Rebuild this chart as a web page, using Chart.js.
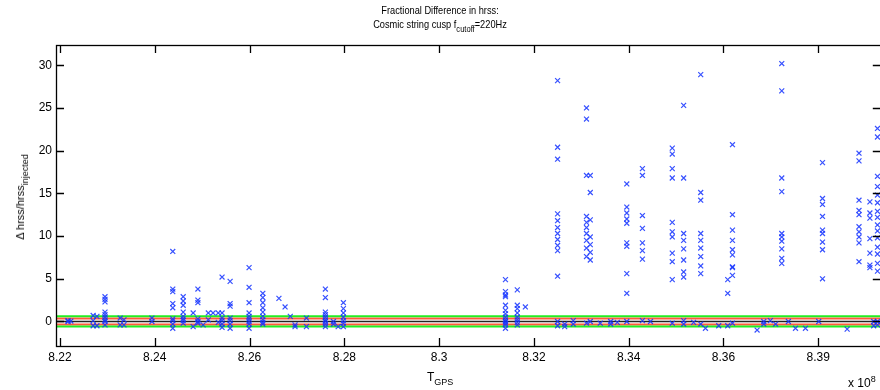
<!DOCTYPE html>
<html lang="en">
<head>
<meta charset="UTF-8">
<title>Fractional Difference in hrss</title>
<script src="https://cdn.jsdelivr.net/npm/chart.js"></script>
<style>
    body { margin: 0; background: #fff; }
    .wrap {
        position: relative;
        width: 880px;
        height: 390px;
        overflow: hidden;
        font-family: 'Liberation Sans', Arial, sans-serif;
        color: #000;
    }
    canvas { position: absolute; left: 0; top: 0; }
    .txt { position: absolute; white-space: nowrap; font-size: 11px; line-height: 14px; }
    .txt sub { font-size: 9px; vertical-align: -4px; line-height: 0; }
    .txt sup { font-size: 9px; vertical-align: 5px; line-height: 0; }
    #title { left: 0; width: 880px; top: 3px; text-align: center; transform: scaleX(0.84); }
    #ylab { left: 20px; top: 197px; transform: translate(-50%, -50%) rotate(-90deg); }
    #xlab { left: 427px; top: 370px; font-size: 12px; }
    #xexp { left: 848px; top: 376px; font-size: 12px; }
</style>
</head>
<body>
<div class="wrap">
    <canvas id="chart" width="886" height="390"></canvas>
    <div class="txt" id="title">Fractional Difference in hrss:<br>Cosmic string cusp f<sub>cutoff</sub>=220Hz</div>
    <div class="txt" id="ylab">&Delta; hrss/hrss<sub>injected</sub></div>
    <div class="txt" id="xlab">T<sub>GPS</sub></div>
    <div class="txt" id="xexp">x 10<sup>8</sup></div>
</div>

<script>
    // axis ticks
    const xTickValues = [8.22, 8.24, 8.26, 8.28, 8.30, 8.32, 8.34, 8.36, 8.38];
    const xTickLabels = ['8.22', '8.24', '8.26', '8.28', '8.3', '8.32', '8.34', '8.36', '8.39'];
    const yTickValues = [0, 5, 10, 15, 20, 25, 30];

    // reference bands around zero
    const greenBand = 0.6;
    const redBand = 0.35;

    // injection times (x 1e8 s) and the fractional differences found at each
    const colX = [
        8.2217, 8.2223, 8.2270, 8.2278, 8.2295, 8.2327, 8.2335, 8.2394,
        8.2438, 8.2460, 8.2481, 8.2491, 8.2502, 8.2513, 8.2523, 8.2534,
        8.2542, 8.2559, 8.2599, 8.2628, 8.2662, 8.2675, 8.2686, 8.2696,
        8.2720, 8.2760, 8.2777, 8.2787, 8.2798,
        8.3140, 8.3165, 8.3182,
        8.3250, 8.3265, 8.3283, 8.3311, 8.3319, 8.3340, 8.3362, 8.3376,
        8.3396, 8.3429, 8.3446, 8.3492, 8.3516, 8.3537, 8.3552, 8.3562,
        8.3590, 8.3609, 8.3619, 8.3671, 8.3685, 8.3699, 8.3710, 8.3723,
        8.3737, 8.3752, 8.3773, 8.3801, 8.3809, 8.3861, 8.3886, 8.3909,
        8.3917, 8.3925
    ];
    const colY = [
        [0.1, 0], [0.05], [0.7, 0.1, -0.5], [0.6, -0.5],
        [2.9, 2.6, 2.3, 1.1, 0.8, 0.5, 0.2, 0, -0.4], [0.4, -0.4], [0.2, -0.4], [0.4, 0],
        [8.2, 3.8, 3.5, 2.1, 1.6, 0.3, 0.1, -0.3, -0.8], [2.9, 2.4, 1.9, 1.1, 0.6, 0.3, 0.1, -0.2],
        [1.0, -0.6], [3.8, 2.5, 2.2, 0.3, 0, -0.2], [-0.4], [1.0, 0.2], [1.0], [1.0, -0.1],
        [5.2, 1.0, 0.4, 0.1, -0.3, -0.7], [4.7, 2.1, 1.8, 0.4, 0.1, -0.3, -0.8],
        [6.3, 4.0, 2.2, 1.0, 0.6, 0.3, 0, -0.3, -0.8], [3.3, 2.8, 2.2, 1.6, 1.1, 0.6, 0.2, -0.1, -0.3],
        [2.7], [1.7], [0.6], [-0.4, -0.6],
        [0.4, -0.6], [3.8, 2.8, 1.1, 0.8, 0.5, 0.2, 0, -0.3, -0.6], [0, -0.3], [-0.6],
        [2.2, 1.5, 1.0, 0.5, 0.1, -0.2, -0.6],
        [4.9, 3.5, 3.1, 2.9, 1.9, 1.3, 0.9, 0.5, 0.2, 0, -0.2, -0.4, -0.8],
        [3.7, 1.9, 1.5, 1.0, 0.5, 0.2, -0.1, -0.4], [1.7],
        [28.2, 20.4, 19.0, 12.6, 11.8, 11.0, 10.3, 9.6, 8.9, 8.3, 5.3, 0, -0.5], [-0.3, -0.6], [0.1, -0.3],
        [25.0, 23.7, 17.1, 12.3, 11.6, 11.0, 10.3, 9.5, 8.6, 7.6, -0.2],
        [17.1, 15.1, 11.9, 9.9, 9.0, 8.1, 7.2, 0], [-0.2], [0, -0.3], [-0.1],
        [16.1, 13.4, 12.7, 12.0, 11.5, 9.2, 8.8, 5.6, 3.3, 0],
        [17.9, 17.1, 12.4, 10.9, 9.2, 8.3, 7.3, 0.1], [0],
        [20.3, 19.6, 17.9, 16.8, 11.6, 10.5, 9.9, 8.0, 7.0, 4.9, -0.2],
        [25.3, 16.8, 10.3, 9.5, 8.5, 7.2, 5.8, 5.2, 0.1, -0.3], [-0.1],
        [28.9, 15.1, 14.2, 10.3, 9.5, 8.6, 7.6, 6.5, 5.6, -0.3], [-0.8],
        [-0.5], [4.9, 3.3, -0.5],
        [20.7, 12.5, 10.7, 9.5, 8.4, 7.8, 6.4, 6.3, 5.4, -0.2],
        [-1.0], [0, -0.3], [0.1], [-0.3],
        [30.2, 27.0, 16.8, 15.2, 10.3, 9.9, 9.4, 8.5, 7.4, 6.8],
        [0], [-0.8], [-0.8], [0],
        [18.6, 14.4, 13.7, 12.3, 10.7, 10.3, 9.3, 8.4, 5.0], [-0.9],
        [19.7, 18.8, 14.2, 13.0, 12.5, 11.1, 10.5, 9.9, 9.2, 7.0],
        [14.0, 12.7, 12.1, 9.7, 8.0, 6.6, 6.3],
        [0, -0.5],
        [22.6, 21.6, 17.0, 15.8, 14.8, 13.9, 12.9, 12.2, 11.3, 10.6, 9.8, 8.7, 7.9, 6.8, 5.9, 0, -0.4]
    ];

    const xMin = 8.21916, xMax = 8.3932;
    const yMin = -2.87, yMax = 32.37;

    const points = [];
    colX.forEach((x, i) => colY[i].forEach(y => points.push({ x: x, y: y })));

    function band(y) {
        return [{ x: xMin, y: y }, { x: xMax, y: y }];
    }

    function lineSet(y, color, w) {
        return {
            type: 'line',
            data: band(y),
            borderColor: color,
            borderWidth: w,
            pointRadius: 0,
            order: 2
        };
    }

    // MATLAB style box with inward ticks
    const framePlugin = {
        id: 'frame',
        afterDraw(chart) {
            const { ctx, chartArea: a, scales: { x, y } } = chart;
            ctx.save();
            ctx.strokeStyle = '#000';
            ctx.lineWidth = 1.3;
            ctx.strokeRect(a.left + 0.5, a.top + 0.5, a.right - a.left, a.bottom - a.top);
            ctx.beginPath();
            xTickValues.forEach(v => {
                const px = Math.round(x.getPixelForValue(v)) + 0.5;
                ctx.moveTo(px, a.bottom); ctx.lineTo(px, a.bottom - 8);
                ctx.moveTo(px, a.top); ctx.lineTo(px, a.top + 8);
            });
            yTickValues.forEach(v => {
                const py = Math.round(y.getPixelForValue(v)) + 0.5;
                ctx.moveTo(a.left, py); ctx.lineTo(a.left + 8, py);
                ctx.moveTo(a.right, py); ctx.lineTo(a.right - 8, py);
            });
            ctx.stroke();
            ctx.restore();
        }
    };

    const tickFont = { family: "'Liberation Sans', Arial, sans-serif", size: 12 };

    new Chart(document.getElementById('chart'), {
        type: 'scatter',
        data: {
            datasets: [
                {
                    data: points,
                    pointStyle: 'crossRot',
                    pointRadius: 3.5,
                    borderColor: 'rgba(20, 50, 255, 0.85)',
                    borderWidth: 1.2,
                    order: 1
                },
                lineSet(greenBand, '#22ee22', 2),
                lineSet(-greenBand, '#22ee22', 2),
                lineSet(redBand, '#ff5a3c', 2),
                lineSet(-redBand, '#ff5a3c', 2),
                lineSet(0, '#222222', 1.5)
            ]
        },
        options: {
            responsive: false,
            animation: false,
            layout: { padding: { top: 45, left: 0, right: 0, bottom: 0 } },
            plugins: { legend: { display: false }, tooltip: { enabled: false } },
            scales: {
                x: {
                    type: 'linear',
                    min: xMin,
                    max: xMax,
                    afterBuildTicks: s => { s.ticks = xTickValues.map(v => ({ value: v })); },
                    afterFit: s => { s.height = 44; },
                    ticks: {
                        callback: (v, i) => xTickLabels[i],
                        font: tickFont,
                        color: '#000',
                        padding: 4,
                        maxRotation: 0,
                        autoSkip: false
                    },
                    grid: { display: false, drawTicks: false },
                    border: { display: false }
                },
                y: {
                    min: yMin,
                    max: yMax,
                    afterBuildTicks: s => { s.ticks = yTickValues.map(v => ({ value: v })); },
                    afterFit: s => { s.width = 56; },
                    ticks: {
                        callback: v => String(v),
                        font: tickFont,
                        color: '#000',
                        padding: 4
                    },
                    grid: { display: false, drawTicks: false },
                    border: { display: false }
                }
            }
        },
        plugins: [framePlugin]
    });
</script>
</body>
</html>
